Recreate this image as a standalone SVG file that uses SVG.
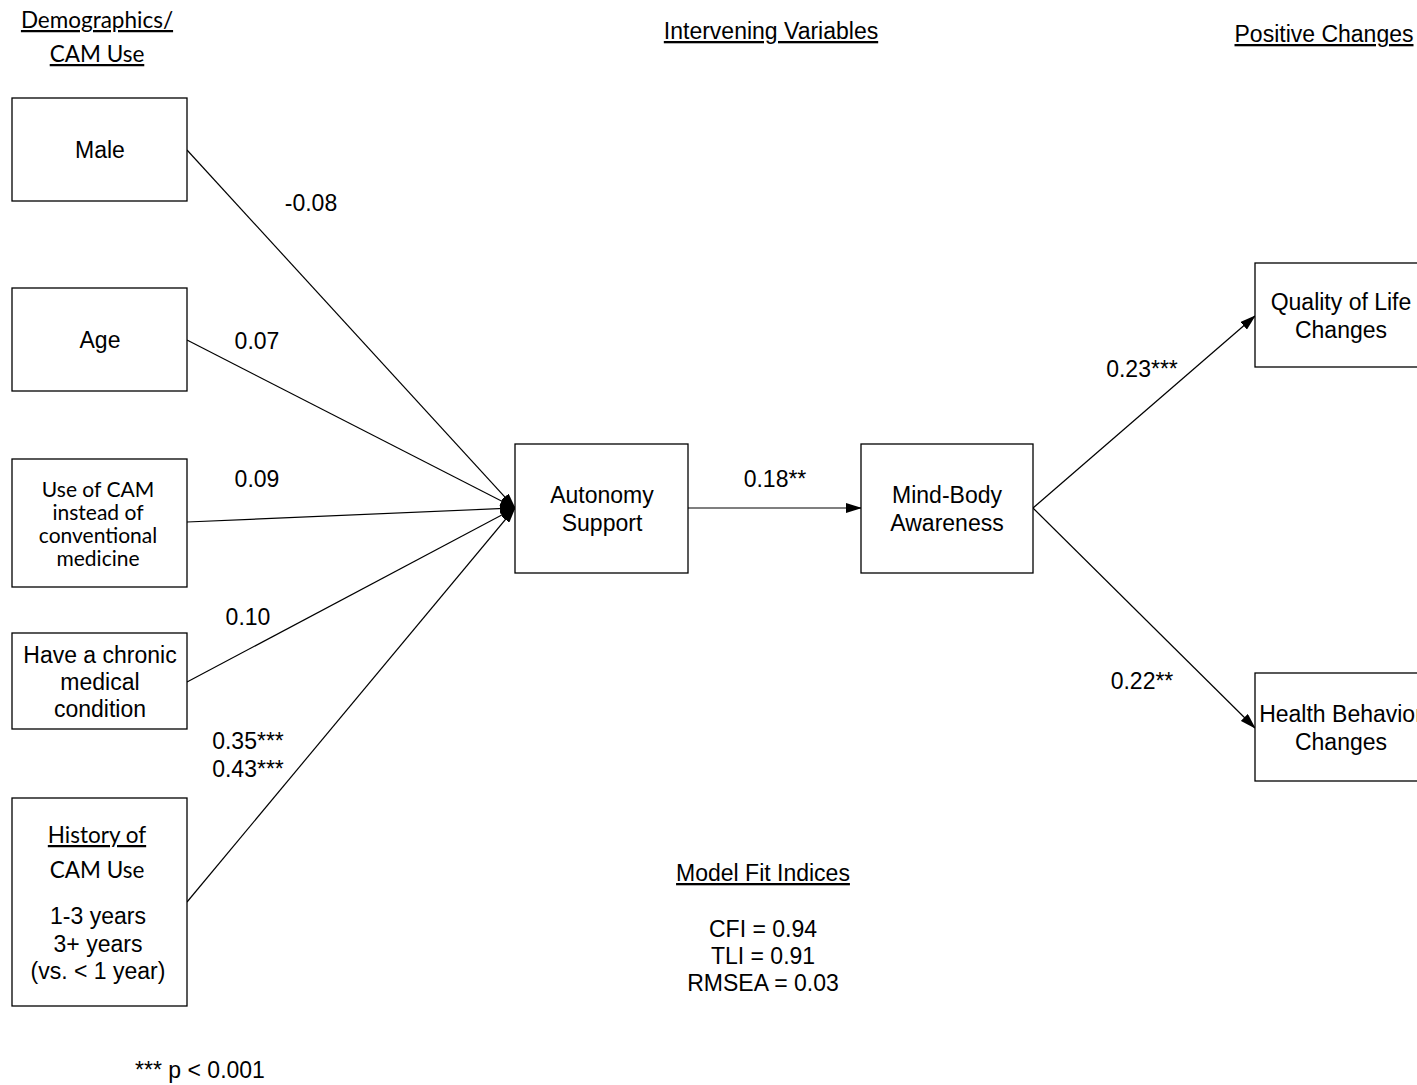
<svg xmlns="http://www.w3.org/2000/svg" width="1417" height="1085" viewBox="0 0 1417 1085">
<style>
.box{fill:#fff;stroke:#000;stroke-width:1.3}
.t{font-family:"Liberation Sans",Arial,sans-serif;font-size:23px;fill:#000;text-anchor:middle}
.c{font-family:Lato,"Open Sans",sans-serif;font-size:22.5px;fill:#000;text-anchor:middle}
.s{font-size:21px}
.u{text-decoration:underline}
.e{stroke:#000;stroke-width:1.2;fill:none}
</style>
<defs>
<marker id="ah" markerWidth="16" markerHeight="10" refX="15" refY="5" orient="auto" markerUnits="userSpaceOnUse">
<path d="M0,0 L16,5 L0,10 Z" fill="#000"/>
</marker>
</defs>
<rect width="1417" height="1085" fill="#fff"/>
<g id="headings">
<text class="c u" x="97" y="28">Demographics/</text>
<text class="c u" x="97" y="62">CAM Use</text>
<text class="t u" x="771" y="39">Intervening Variables</text>
<text class="t u" x="1324" y="42">Positive Changes</text>
</g>
<g id="connectors">
<line class="e" x1="187" y1="150" x2="515" y2="508" marker-end="url(#ah)"/>
<line class="e" x1="187" y1="340" x2="515" y2="508" marker-end="url(#ah)"/>
<line class="e" x1="187" y1="522" x2="515" y2="508" marker-end="url(#ah)"/>
<line class="e" x1="187" y1="682" x2="515" y2="508" marker-end="url(#ah)"/>
<line class="e" x1="187" y1="902" x2="515" y2="508" marker-end="url(#ah)"/>
<line class="e" x1="688" y1="508" x2="861" y2="508" marker-end="url(#ah)"/>
<line class="e" x1="1033" y1="508" x2="1255" y2="316" marker-end="url(#ah)"/>
<line class="e" x1="1033" y1="508" x2="1255" y2="728" marker-end="url(#ah)"/>
</g>
<g id="edge-labels">
<text class="t" x="311" y="211">-0.08</text>
<text class="t" x="257" y="349">0.07</text>
<text class="t" x="257" y="487">0.09</text>
<text class="t" x="248" y="625">0.10</text>
<text class="t" x="248" y="749">0.35***</text>
<text class="t" x="248" y="777">0.43***</text>
<text class="t" x="775" y="487">0.18**</text>
<text class="t" x="1142" y="377">0.23***</text>
<text class="t" x="1142" y="689">0.22**</text>
</g>
<g id="node-male">
<rect class="box" x="12" y="98" width="175" height="103"/>
<text class="t" x="100" y="158">Male</text>
</g>
<g id="node-age">
<rect class="box" x="12" y="288" width="175" height="103"/>
<text class="t" x="100" y="348">Age</text>
</g>
<g id="node-usecam">
<rect class="box" x="12" y="459" width="175" height="128"/>
<text class="c s" x="98" y="497">Use of CAM</text>
<text class="c s" x="98" y="520">instead of</text>
<text class="c s" x="98" y="543">conventional</text>
<text class="c s" x="98" y="566">medicine</text>
</g>
<g id="node-chronic">
<rect class="box" x="12" y="633" width="175" height="96"/>
<text class="t" x="100" y="663">Have a chronic</text>
<text class="t" x="100" y="690">medical</text>
<text class="t" x="100" y="717">condition</text>
</g>
<g id="node-history">
<rect class="box" x="12" y="798" width="175" height="208"/>
<text class="c u" x="97" y="843">History of</text>
<text class="c" x="97" y="878">CAM Use</text>
<text class="t" x="98" y="924">1-3 years</text>
<text class="t" x="98" y="952">3+ years</text>
<text class="t" x="98" y="979">(vs. &lt; 1 year)</text>
</g>
<g id="node-autonomy">
<rect class="box" x="515" y="444" width="173" height="129"/>
<text class="t" x="602" y="503">Autonomy</text>
<text class="t" x="602" y="531">Support</text>
</g>
<g id="node-mindbody">
<rect class="box" x="861" y="444" width="172" height="129"/>
<text class="t" x="947" y="503">Mind-Body</text>
<text class="t" x="947" y="531">Awareness</text>
</g>
<g id="node-qol">
<rect class="box" x="1255" y="263" width="180" height="104"/>
<text class="t" x="1341" y="310">Quality of Life</text>
<text class="t" x="1341" y="338">Changes</text>
</g>
<g id="node-health">
<rect class="box" x="1255" y="673" width="180" height="108"/>
<text class="t" x="1341" y="722">Health Behavior</text>
<text class="t" x="1341" y="750">Changes</text>
</g>
<g id="fit">
<text class="t u" x="763" y="881">Model Fit Indices</text>
<text class="t" x="763" y="937">CFI = 0.94</text>
<text class="t" x="763" y="964">TLI = 0.91</text>
<text class="t" x="763" y="991">RMSEA = 0.03</text>
<text class="t" x="200" y="1078">*** p &lt; 0.001</text>
</g>
</svg>
